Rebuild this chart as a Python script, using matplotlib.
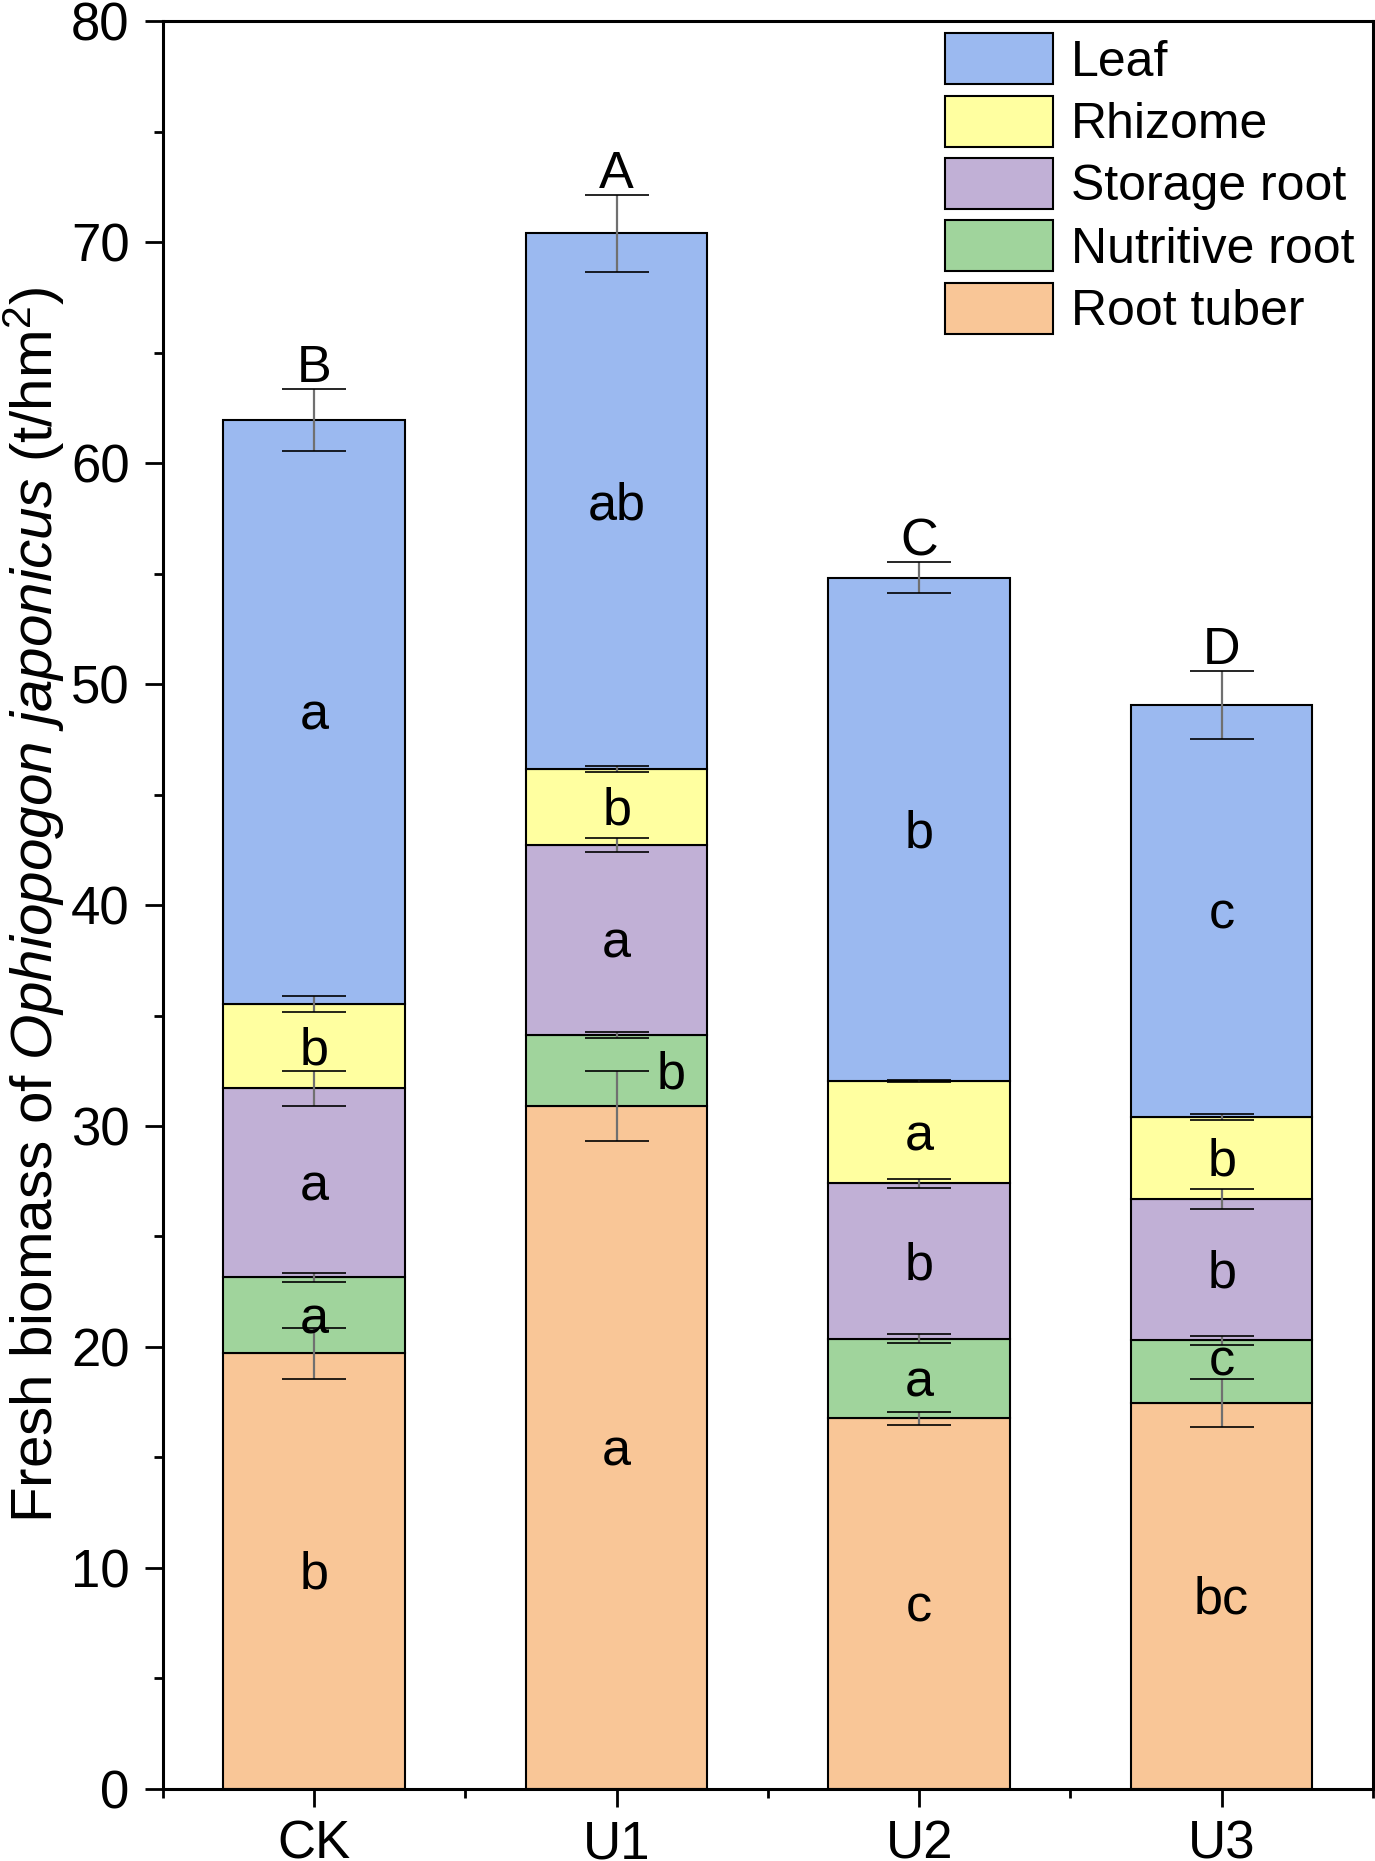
import matplotlib
matplotlib.use('Agg')
import matplotlib.pyplot as plt
import numpy as np

plt.rcParams['font.family'] = ['Liberation Sans', 'DejaVu Sans']
plt.rcParams['mathtext.fontset'] = 'custom'
plt.rcParams['mathtext.rm'] = 'Liberation Sans'
plt.rcParams['mathtext.it'] = 'Liberation Sans:italic'

# Data (t/hm2)
groups = ['CK', 'U1', 'U2', 'U3']
root_tuber = [19.72, 30.90, 16.77, 17.46]
nutritive_root = [3.44, 3.22, 3.60, 2.85]
storage_root = [8.54, 8.60, 7.03, 6.40]
rhizome = [3.82, 3.44, 4.63, 3.70]
leaf = [26.44, 24.23, 22.78, 18.65]

root_tuber_err = [1.15, 1.60, 0.30, 1.07]
nutritive_root_err = [0.20, 0.15, 0.20, 0.20]
storage_root_err = [0.80, 0.30, 0.20, 0.45]
rhizome_err = [0.35, 0.15, 0.05, 0.15]
leaf_err = [1.40, 1.75, 0.70, 1.53]

root_tuber_sig = ['b', 'a', 'c', 'bc']
nutritive_root_sig = ['a', 'b', 'a', 'c']
storage_root_sig = ['a', 'a', 'b', 'b']
rhizome_sig = ['b', 'b', 'a', 'b']
leaf_sig = ['a', 'ab', 'b', 'c']
total_sig = ['B', 'A', 'C', 'D']

# stacking order bottom -> top
parts = [
    ('Root tuber', root_tuber, root_tuber_err, root_tuber_sig, '#F9C697'),
    ('Nutritive root', nutritive_root, nutritive_root_err, nutritive_root_sig, '#A0D49C'),
    ('Storage root', storage_root, storage_root_err, storage_root_sig, '#C1B0D6'),
    ('Rhizome', rhizome, rhizome_err, rhizome_sig, '#FFFFA0'),
    ('Leaf', leaf, leaf_err, leaf_sig, '#9BB9F0'),
]

fs_tick = 38
fs_txt = 37.5
fs_leg = 36
fs_lab = 42
x = np.arange(len(groups))
bar_width = 0.6

fig = plt.figure(figsize=(13.75, 18.61), dpi=100)
ax = fig.add_axes([0.1185, 0.0387, 0.88, 0.95])

bottom = np.zeros(len(groups))
handles = []
for name, vals, errs, sig, col in parts:
    vals = np.array(vals)
    b = ax.bar(x, vals, bar_width, bottom=bottom, color=col, edgecolor='black',
               linewidth=1.5, zorder=2, label=name)
    handles.append(b)
    top = bottom + vals
    eb = ax.errorbar(x, top, yerr=errs, fmt='none', ecolor='#707070',
                     elinewidth=1.6, capsize=23, capthick=1.2, zorder=3)
    for cl in eb[1]:
        cl.set_markeredgecolor('black')
    for i in range(len(groups)):
        xi = x[i]
        yi = bottom[i] + vals[i] / 2 - 0.2
        if name == 'Nutritive root' and groups[i] == 'U1':
            xi = x[i] + 0.18
        if name == 'Nutritive root' and groups[i] == 'U3':
            yi += 0.65
        ax.text(xi, yi, sig[i], ha='center', va='center', fontsize=fs_txt, zorder=4)
    bottom = top

# letters above the whole bar
for i in range(len(groups)):
    ax.text(x[i], bottom[i] + leaf_err[i] + 0.3, total_sig[i], ha='center',
            va='baseline', fontsize=fs_txt, zorder=4)

ax.set_xlim(-0.5, 3.5)
ax.set_ylim(0, 80)
ax.set_xticks(x)
ax.set_xticklabels(groups)
ax.set_xticks([-0.5, 0.5, 1.5, 2.5, 3.5], minor=True)
ax.set_yticks(np.arange(0, 81, 10))
ax.set_yticks(np.arange(5, 80, 10), minor=True)

ax.tick_params(axis='both', which='major', direction='out', length=13, width=2,
               labelsize=fs_tick, pad=11)
ax.tick_params(axis='x', which='major', pad=9)
ax.tick_params(axis='both', which='minor', direction='out', length=6.5, width=2)
for sp in ax.spines.values():
    sp.set_linewidth(2.2)

ax.set_ylabel(r'Fresh biomass of $\mathit{Ophiopogon\ japonicus}$ (t/hm$^2$)',
              fontsize=fs_lab, labelpad=3)

leg = ax.legend(handles[::-1], [p[0] for p in parts][::-1], loc='upper right',
                bbox_to_anchor=(0.985, 0.993), fontsize=fs_leg, frameon=False,
                handlelength=2.16, handleheight=1.19, labelspacing=0.2,
                handletextpad=0.36, borderaxespad=0, borderpad=0)

plt.savefig('out.png', dpi=100)
